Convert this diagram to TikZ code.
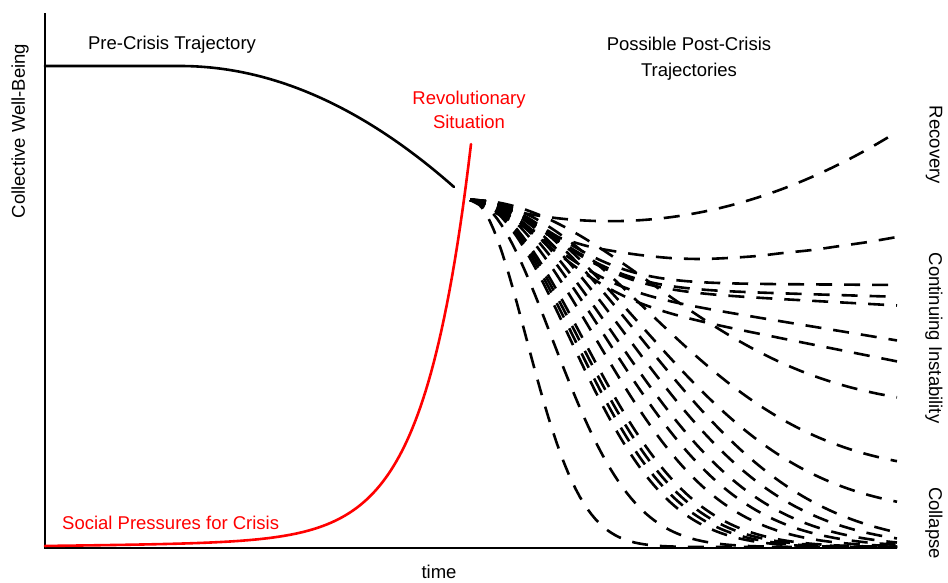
\documentclass[tikz,border=0pt]{standalone}
\usepackage{fontspec}
\setmainfont{Liberation Sans}
\begin{document}
\begin{tikzpicture}[x=1pt,y=-1pt]
\useasboundingbox (0,0) rectangle (948,582);
\tikzset{
  lbl/.style={font=\fontsize{18.5}{24}\selectfont, inner sep=0pt, anchor=center},
  redlbl/.style={lbl, text=red},
  axisline/.style={line width=2pt},
  traj/.style={line width=2.6pt, line join=round, line cap=round},
  fanline/.style={line width=2.6pt, dash pattern=on 16pt off 12pt},
}
\newcommand\fancurve[3]{%
  \draw[fanline] plot[domain=0:427, samples=110, variable=\t]
    ({470+\t},{min(547,200+#1*(1-exp(max(-12,-(\t/#2)^2)))+#3*\t)});}
% axes
\draw[axisline] (45,13) -- (45,547.5) -- (897,547.5);
% pre-crisis trajectory
\draw[traj] (45,66) -- (180,66) -- plot[domain=180:454, samples=90, variable=\x] (\x,{66+121*((\x-180)/274)^2});
% social pressures
\draw[traj, red] plot[domain=45:471, samples=160, variable=\x] (\x,{546-0.044*exp(0.02137*(\x-45))-0.012*(\x-45)});
% fan of possible trajectories
\coordinate (fan) at (470,200);
\draw[fanline] plot[domain=0:427, samples=100, variable=\t] ({470+\t},{200+0.303*\t-0.001089*\t*\t});
\draw[fanline] plot[smooth] coordinates {(470,200) (527,228) (557,237) (587,246) (613,251) (640,255) (670,258) (700,259) (728,258) (757,256) (783,253) (812,250) (840,246) (868,242) (897,237)};
\fancurve{82}{115}{0.007}
\fancurve{84}{115}{0.03}
\fancurve{82}{115}{0.055}
\fancurve{70}{105}{0.165}
\fancurve{76}{110}{0.2}
\fancurve{210}{255}{0}
\fancurve{275}{247}{0}
\fancurve{315}{240}{0}
\fancurve{347}{79}{0}
\fancurve{347}{115}{0}
\fancurve{347}{140}{0}
\fancurve{347}{146}{0}
\fancurve{347}{152}{0}
\fancurve{347}{158}{0}
\fancurve{347}{176}{0}
\fancurve{347}{191}{0}
\fancurve{347}{205}{0}
\fancurve{347}{222}{0}
\fancurve{347}{240}{0}
% labels
\node[lbl, rotate=90] (ylab) at (20,131) {Collective Well-Being};
\node[lbl] (pre) at (172,45) {Pre-Crisis Trajectory};
\node[lbl, align=center, font=\fontsize{18.5}{26}\selectfont] (post) at (689,59) {Possible Post-Crisis\\Trajectories};
\node[redlbl, align=center] (rev) at (469,110) {Revolutionary\\Situation};
\node[redlbl, anchor=west] (soc) at (62,523) {Social Pressures for Crisis};
\node[lbl] (time) at (439,572) {time};
\node[lbl, rotate=-90] (rec) at (934,145) {Recovery};
\node[lbl, rotate=-90] (cont) at (934,338) {Continuing Instability};
\node[lbl, rotate=-90] (coll) at (934,523) {Collapse};
\end{tikzpicture}
\end{document}
